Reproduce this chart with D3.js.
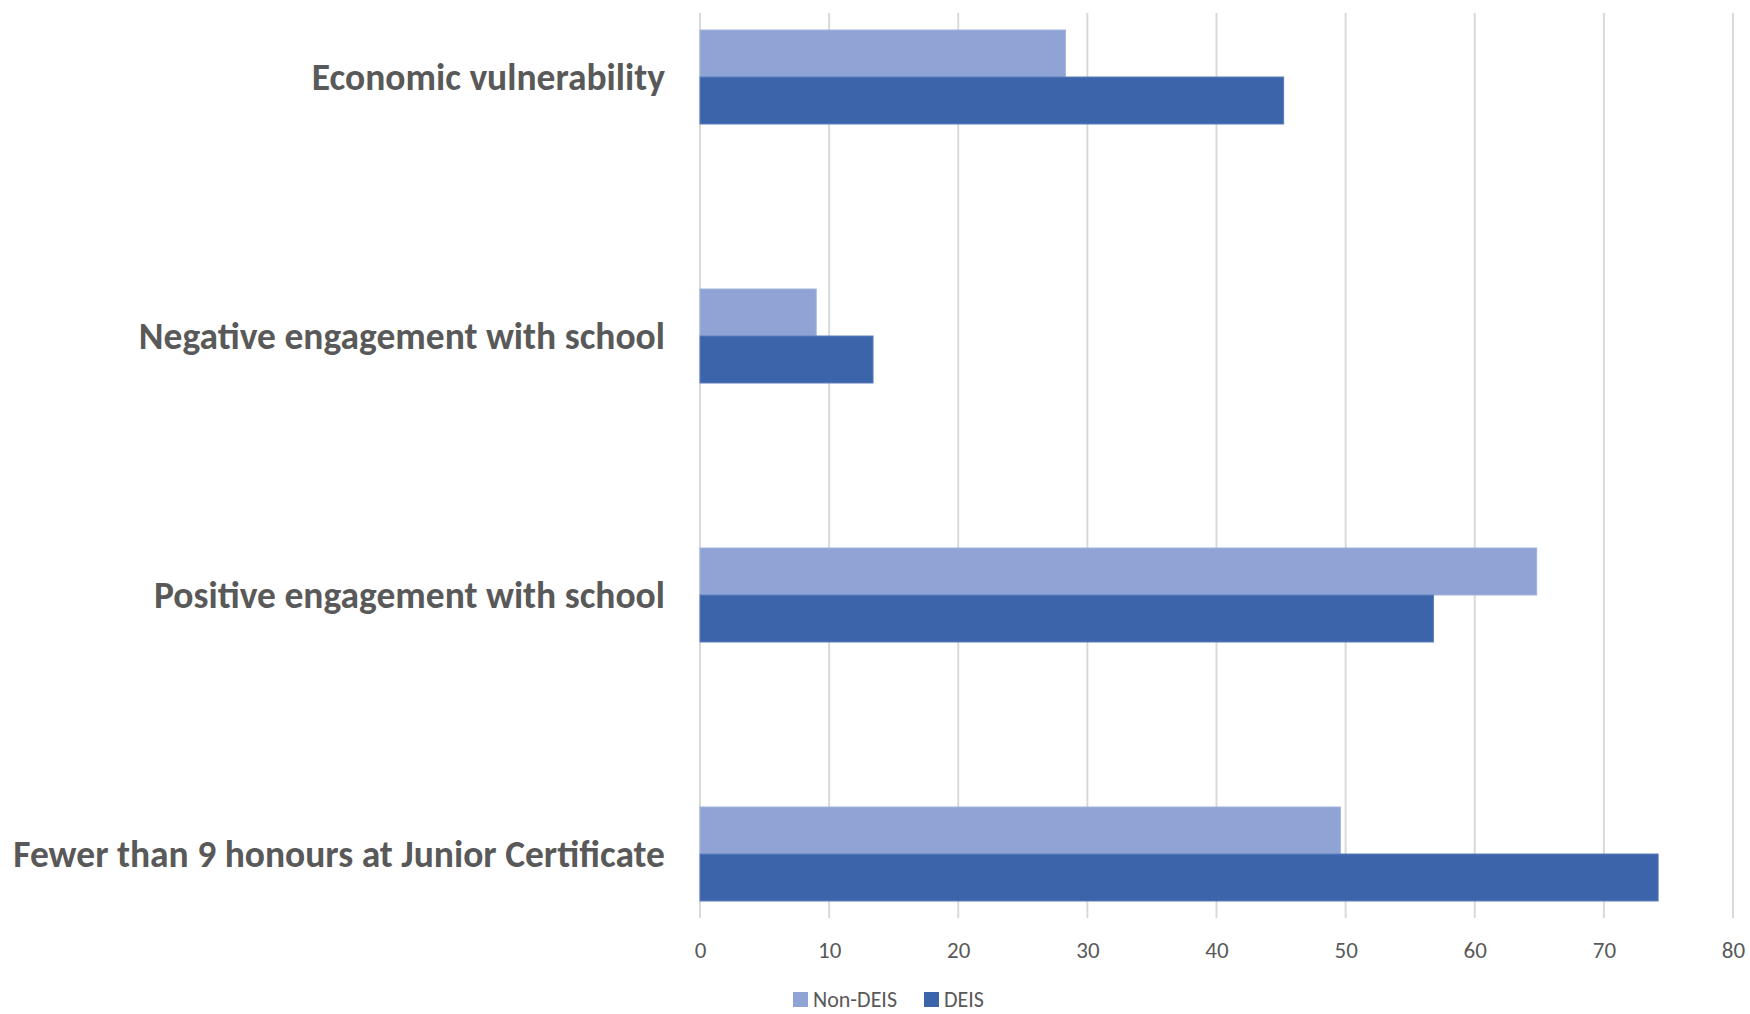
<!DOCTYPE html>
<html>
<head>
<meta charset="utf-8">
<script src="https://cdn.jsdelivr.net/npm/d3@7"></script>
<style>
  html, body { margin: 0; padding: 0; background: #fff; }
  svg { display: block; font-family: Carlito, Calibri, Lato, "Open Sans", sans-serif; }
</style>
</head>
<body>
<svg id="chart" width="1750" height="1014"></svg>
<script>
// Share of students (%) by school type
const categories = [
  "Economic vulnerability",
  "Negative engagement with school",
  "Positive engagement with school",
  "Fewer than 9 honours at Junior Certificate"
];
const seriesNames = ["Non-DEIS", "DEIS"];
const nonDeis = [28.3, 9.0, 64.8, 49.6];
const deis = [45.2, 13.4, 56.8, 74.2];
const xTicks = [0, 10, 20, 30, 40, 50, 60, 70, 80];
const colors = ["#8FA4D4", "#3C64AA"];

const svg = d3.select("#chart");
const plot = { left: 700, right: 1733, top: 13, bottom: 918 };

const x = d3.scaleLinear().domain([0, 80]).range([plot.left, plot.right]);
// category centres
const y = d3.scalePoint().domain(categories).range([plot.top + 64, plot.bottom - 64]);
const barH = 47;

// vertical gridlines
svg.append("g").selectAll("line").data(xTicks).join("line")
  .attr("x1", d => x(d)).attr("x2", d => x(d))
  .attr("y1", plot.top).attr("y2", plot.bottom)
  .attr("stroke", "#d9d9d9").attr("stroke-width", 2);

// bars
const series = [nonDeis, deis];
series.forEach((vals, si) => {
  svg.append("g").selectAll("rect").data(categories).join("rect")
    .attr("x", x(0))
    .attr("y", d => y(d) + (si === 0 ? -barH : 0))
    .attr("width", (d, i) => x(vals[i]) - x(0))
    .attr("height", barH)
    .attr("fill", colors[si])
    .attr("stroke", si === 0 ? "#a3b4de" : "#5a7dbd")
    .attr("stroke-width", 1);
});

// category labels
svg.append("g").selectAll("text").data(categories).join("text")
  .attr("x", 665).attr("y", d => y(d))
  .attr("text-anchor", "end").attr("dominant-baseline", "central")
  .attr("font-size", 37.5).attr("font-weight", "bold").attr("fill", "#595959")
  .text(d => d);

// x axis tick labels
const xAxis = d3.axisBottom(x).tickValues(xTicks).tickSize(0).tickPadding(0);
const ax = svg.append("g").attr("transform", `translate(0, 942)`).call(xAxis);
ax.select(".domain").remove();
ax.selectAll("text").attr("font-size", 23).attr("fill", "#595959")
  .attr("font-family", "Carlito, Calibri, Lato, 'Open Sans', sans-serif");

// legend
const legend = svg.append("g").attr("transform", "translate(793, 999)");
const legendX = [0, 131];
seriesNames.forEach((name, i) => {
  const g = legend.append("g").attr("transform", `translate(${legendX[i]},0)`);
  g.append("rect").attr("x", 0).attr("y", -7).attr("width", 15).attr("height", 15).attr("fill", colors[i]);
  g.append("text").attr("x", 20).attr("y", 0).attr("dominant-baseline", "central")
    .attr("font-size", 22).attr("fill", "#595959").text(name);
});
</script>
</body>
</html>
